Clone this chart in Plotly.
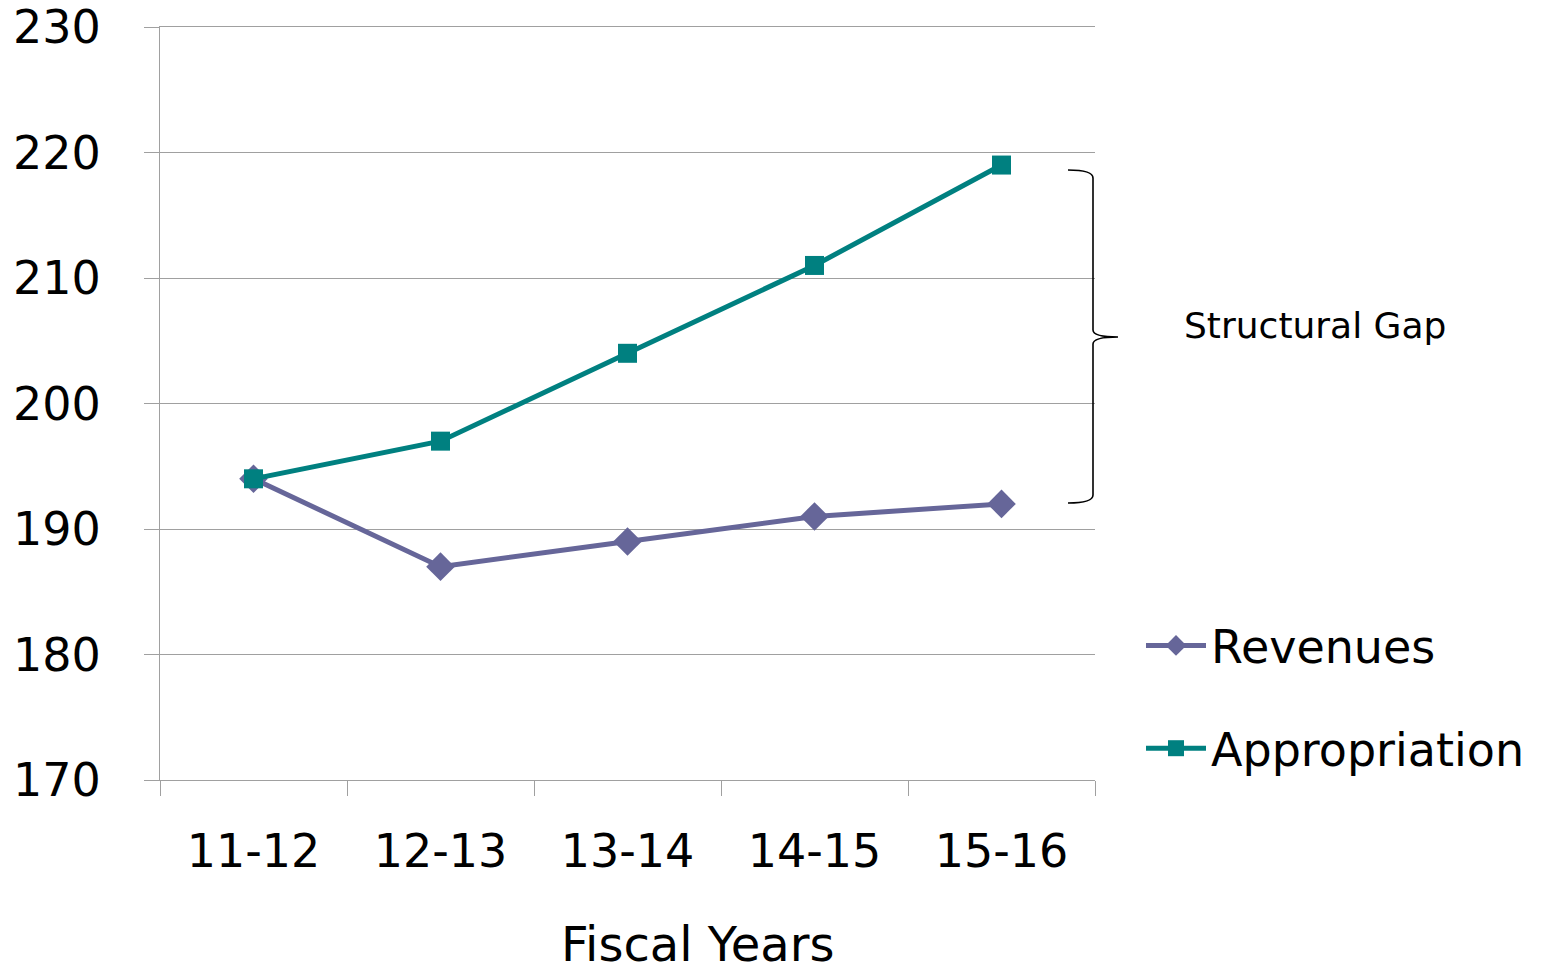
import plotly.graph_objects as go

years = ["11-12", "12-13", "13-14", "14-15", "15-16"]
revenues = [194, 187, 189, 191, 192]
appropriation = [194, 197, 204, 211, 219]
y_ticks = [170, 180, 190, 200, 210, 220, 230]

OFF = 8  # page body margin
W, H = 1545 - OFF, 966 - OFF
# plot area in screen pixels
L, R, T, B = 160, 1095, 27, 780
FONT = "DejaVu Sans"

def px(x):
    return (x - L) / (R - L)

def py(y):
    return (B - y) / (B - T)

fig = go.Figure()
fig.add_trace(go.Scatter(
    x=years, y=revenues, name="Revenues", mode="lines+markers",
    line=dict(color="#666699", width=5),
    marker=dict(symbol="diamond", size=22, color="#666699"),
    legendgroup="rev",
))
fig.add_trace(go.Scatter(
    x=years, y=appropriation, name="Appropriation", mode="lines+markers",
    line=dict(color="#008080", width=5),
    marker=dict(symbol="square", size=19, color="#008080"),
    legendgroup="app",
))

# curly brace
bx, tipx = 1093, 1118
y0, ym, y1 = 170, 337, 503
path = (
    f"M{px(1068)},{py(y0)} Q{px(bx)},{py(y0)} {px(bx)},{py(y0+8)} "
    f"L{px(bx)},{py(ym-7)} Q{px(bx)},{py(ym)} {px(tipx)},{py(ym)} "
    f"Q{px(bx)},{py(ym)} {px(bx)},{py(ym+7)} "
    f"L{px(bx)},{py(y1-8)} Q{px(bx)},{py(y1)} {px(1068)},{py(y1)}"
)
fig.add_shape(type="path", xref="paper", yref="paper", path=path,
              line=dict(color="black", width=1.6))

fig.add_annotation(text="Structural Gap", xref="paper", yref="paper",
                   x=px(1182), y=py(325), xanchor="left", yanchor="middle",
                   showarrow=False, font=dict(family=FONT, size=36, color="black"))
fig.add_annotation(text="Fiscal Years", xref="paper", yref="paper",
                   x=px(698), y=py(944), xanchor="center", yanchor="middle",
                   showarrow=False, font=dict(family=FONT, size=48, color="black"))

fig.update_layout(
    width=W, height=H,
    margin=dict(l=L - OFF, r=W - (R - OFF), t=T - OFF, b=H - (B - OFF),
                pad=0, autoexpand=False),
    paper_bgcolor="white", plot_bgcolor="white",
    font=dict(family=FONT, color="black"),
    legend=dict(x=px(1141), y=py(609), xanchor="left", yanchor="top",
                font=dict(family=FONT, size=46, color="black"),
                bgcolor="rgba(0,0,0,0)", traceorder="grouped",
                tracegroupgap=40, itemwidth=60),
    xaxis=dict(
        type="category", range=[-0.5, 4.5], tickson="boundaries",
        ticks="outside", ticklen=15, tickcolor="#a0a0a0", tickwidth=1,
        showgrid=False, showline=True, linecolor="#a0a0a0", linewidth=1,
        mirror=True,
        tickfont=dict(family=FONT, size=46, color="black"),
        ticklabelstandoff=31, automargin=False,
    ),
    yaxis=dict(
        range=[170, 230], tickvals=y_ticks,
        ticks="outside", ticklen=15, tickcolor="#a0a0a0", tickwidth=1,
        showgrid=True, gridcolor="#a0a0a0", gridwidth=1,
        showline=True, linecolor="#a0a0a0", linewidth=1,
        zeroline=False, ticklabeloverflow="allow",
        tickfont=dict(family=FONT, size=46, color="black"),
        ticklabelstandoff=34, automargin=False,
    ),
)

fig.write_html("out.html")
